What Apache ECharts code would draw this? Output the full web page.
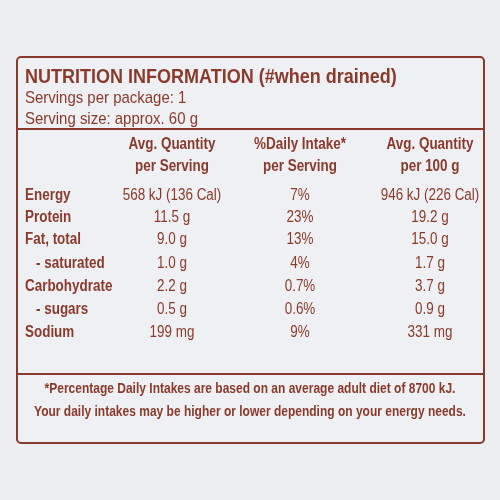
<!DOCTYPE html>
<html><head><meta charset="utf-8">
<script src="https://cdn.jsdelivr.net/npm/echarts@6/dist/echarts.min.js"></script>
<style>html,body{margin:0;background:#eceef2}#c{width:500px;height:500px}</style>
</head><body><div id="c"></div>
<script>
const nutrients = ['Energy','Protein','Fat, total','- saturated','Carbohydrate','- sugars','Sodium'];
const perServing = ['568 kJ (136 Cal)','11.5 g','9.0 g','1.0 g','2.2 g','0.5 g','199 mg'];
const dailyIntake = ['7%','23%','13%','4%','0.7%','0.6%','9%'];
const per100g = ['946 kJ (226 Cal)','19.2 g','15.0 g','1.7 g','3.7 g','0.9 g','331 mg'];
const headers = [['Avg. Quantity','per Serving'],['%Daily Intake*','per Serving'],['Avg. Quantity','per 100 g']];

const C = '#8a3a2b';
const F = 'Liberation Sans, Arial, sans-serif';
const g = [];
g.push({type:'rect',shape:{x:17,y:57,width:467,height:386,r:4},style:{fill:'#eff0f4',stroke:C,lineWidth:2}});
g.push({type:'line',shape:{x1:17,y1:129,x2:484,y2:129},style:{stroke:C,lineWidth:2}});
g.push({type:'line',shape:{x1:17,y1:374,x2:484,y2:374},style:{stroke:C,lineWidth:2}});
function t(x,y,s,size,bold,align,sx){g.push({type:'text',x:x,y:y,scaleX:sx||0.84,style:{text:s,fill:C,fontSize:size,fontWeight:bold?'bold':'normal',fontFamily:F,align:align||'left',verticalAlign:'middle'}});}
t(25,77,'NUTRITION INFORMATION (#when drained)',20,true,'left',0.9);
t(25,98,'Servings per package: 1',17,false,'left',0.88);
t(25,119,'Serving size: approx. 60 g',17,false,'left',0.88);
const cx=[172,300,430];
headers.forEach((h,i)=>{t(cx[i],145,h[0],16,true,'center');t(cx[i],167,h[1],16,true,'center');});
const ys=[196,218,240,264,287,310,333];
nutrients.forEach((n,i)=>{
  t(n.startsWith('-')?36:25,ys[i],n,16,true);
  t(cx[0],ys[i],perServing[i],16,false,'center');
  t(cx[1],ys[i],dailyIntake[i],16,false,'center');
  t(cx[2],ys[i],per100g[i],16,false,'center');
});
t(250,389,'*Percentage Daily Intakes are based on an average adult diet of 8700 kJ.',15,true,'center',0.8);
t(250,412,'Your daily intakes may be higher or lower depending on your energy needs.',15,true,'center',0.8);
const chart = echarts.init(document.getElementById('c'));
chart.setOption({backgroundColor:'#eceef2',graphic:g});
</script></body></html>
